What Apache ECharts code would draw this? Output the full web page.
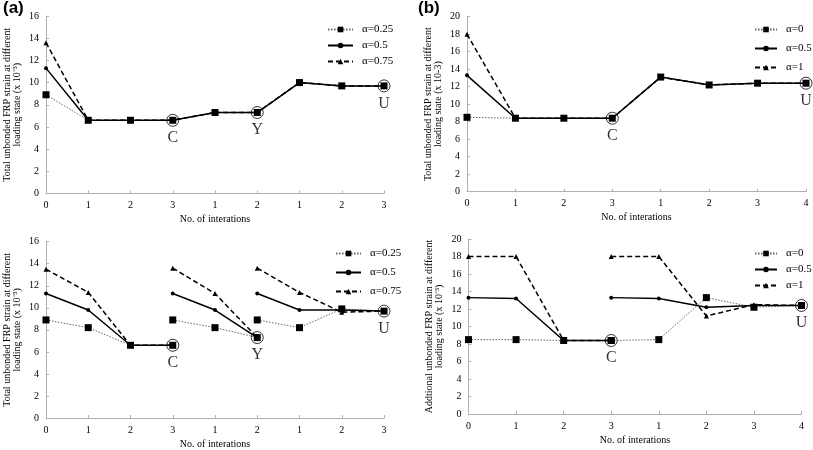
<!DOCTYPE html>
<html><head><meta charset="utf-8">
<script src="https://cdn.jsdelivr.net/npm/echarts@6/dist/echarts.min.js"></script>
<style>html,body{margin:0;padding:0;background:#fff}#c{width:813px;height:450px}</style>
</head><body><div id="c"></div>
<script>
// ---------- DATA ----------
const catsA = ['0','1','2','3','1','2','1','2','3'];
const catsB = ['0','1','2','3','1','2','3','4'];

// (a) top – total unbonded FRP strain (x10^-3)
const aTop025 = [8.9, 6.6, 6.6, 6.6, 7.3, 7.3, 10.0, 9.7, 9.7];
const aTop05  = [11.3, 6.6, 6.6, 6.6, 7.3, 7.3, 10.0, 9.7, 9.7];
const aTop075 = [13.6, 6.6, 6.6, 6.6, 7.3, 7.3, 10.0, 9.7, 9.7];
const aTopMarkIdx = [3, 5, 8];
const aTopMarkTxt = ['C', 'Y', 'U'];

// (a) bottom – segments start at category index
const aBotSegStart = [0, 3, 5];
const aBot025 = [[8.9, 8.2, 6.6, 6.6], [8.9, 8.2, 7.3], [8.9, 8.2, 9.9, 9.7]];
const aBot05  = [[11.3, 9.8, 6.6, 6.6], [11.3, 9.8, 7.3], [11.3, 9.8, 9.8, 9.7]];
const aBot075 = [[13.5, 11.4, 6.6, 6.6], [13.6, 11.3, 7.3], [13.6, 11.4, 9.6, 9.7]];
const aBotMarkIdx = [3, 5, 8];
const aBotMarkVal = [6.6, 7.3, 9.7];
const aBotMarkTxt = ['C', 'Y', 'U'];

// (b) top
const bTop0  = [8.5, 8.4, 8.4, 8.4, 13.1, 12.2, 12.4, 12.4];
const bTop05 = [13.3, 8.4, 8.4, 8.4, 13.1, 12.2, 12.4, 12.4];
const bTop1  = [18.0, 8.4, 8.4, 8.4, 13.1, 12.2, 12.4, 12.4];
const bTopMarkIdx = [3, 7];
const bTopMarkTxt = ['C', 'U'];

// (b) bottom
const bBotSegStart = [0, 3];
const bBot0  = [[8.5, 8.5, 8.4, 8.4], [8.4, 8.5, 13.3, 12.2, 12.4]];
const bBot05 = [[13.3, 13.2, 8.4, 8.4], [13.3, 13.2, 12.2, 12.4, 12.4]];
const bBot1  = [[18.0, 18.0, 8.4, 8.4], [18.0, 18.0, 11.2, 12.5, 12.4]];
const bBotMarkIdx = [3, 7];
const bBotMarkVal = [8.4, 12.4];
const bBotMarkTxt = ['C', 'U'];

const namesA = ['α=0.25', 'α=0.5', 'α=0.75'];
const namesB = ['α=0', 'α=0.5', 'α=1'];
const yNameTotal = 'Total unbonded FRP strain at different\nloading state (x 10\u207B\u00B3)';
const yNameTotalB = 'Total unbonded FRP strain at different\nloading state (x 10-3)';
const yNameAdd = 'Addtional unbonded FRP strain at different\nloading state (x 10\u207B\u00B3)';
const xName = 'No. of interations';

// ---------- HELPERS ----------
const SERIF = 'Liberation Serif';
const AX = '#b0b0b0';
function pairs(arr) { return arr.map((v, i) => [i, v]); }
function segPairs(starts, segs) {
  const out = [];
  segs.forEach((s, k) => {
    if (k > 0) out.push([starts[k], '-']);
    s.forEach((v, i) => out.push([starts[k] + i, v]));
  });
  return out;
}
const sty = {
  sq: { symbol: 'rect', symbolSize: 7, lineStyle: { color: '#666', width: 1, type: [1.5, 1.5] }, itemStyle: { color: '#000' } },
  tr: { symbol: 'triangle', symbolSize: 5, lineStyle: { color: '#000', width: 1.5, type: [5, 3] }, itemStyle: { color: '#000' } },
  ci: { symbol: 'circle', symbolSize: 4, lineStyle: { color: '#000', width: 1.5, type: 'solid' }, itemStyle: { color: '#000' } }
};
function line(name, kind, gi, data) {
  return Object.assign({ type: 'line', name, xAxisIndex: gi, yAxisIndex: gi, data,
    showAllSymbol: true, animation: false, z: 2 }, JSON.parse(JSON.stringify(sty[kind])));
}
function marks(gi, idx, vals, txt) {
  return { type: 'scatter', xAxisIndex: gi, yAxisIndex: gi, silent: true, animation: false, z: 10,
    symbol: 'circle', symbolSize: 12,
    itemStyle: { color: 'rgba(0,0,0,0)', borderColor: '#000', borderWidth: 1 },
    label: { show: true, position: 'bottom', distance: 3, formatter: '{b}', color: '#000', fontFamily: SERIF, fontSize: 16 },
    data: idx.map((i, k) => ({ value: [i, vals[k]], name: txt[k] })) };
}
function xAx(gi, cats) {
  return { type: 'category', gridIndex: gi, data: cats, boundaryGap: false,
    axisLine: { lineStyle: { color: AX, width: 1 } },
    axisTick: { inside: true, length: 3, interval: 0, lineStyle: { color: AX } },
    axisLabel: { interval: 0, color: '#000', fontFamily: SERIF, fontSize: 10, margin: 7 },
    splitLine: { show: false },
    name: xName, nameLocation: 'middle', nameGap: 21,
    nameTextStyle: { color: '#000', fontFamily: SERIF, fontSize: 10 } };
}
function yAx(gi, max, name) {
  return { type: 'value', gridIndex: gi, min: 0, max, interval: 2,
    axisLine: { show: true, lineStyle: { color: AX, width: 1 } },
    axisTick: { show: true, inside: true, length: 3, lineStyle: { color: AX } },
    axisLabel: { color: '#000', fontFamily: SERIF, fontSize: 10, margin: 7 },
    splitLine: { show: false },
    name, nameLocation: 'middle', nameRotate: 90, nameGap: 24,
    nameTextStyle: { color: '#000', fontFamily: SERIF, fontSize: 10, lineHeight: 10 } };
}
function leg(names, left, top, w, gap) {
  return { data: names, orient: 'vertical', left, top, itemWidth: w, itemHeight: 7, itemGap: gap,
    selectedMode: false, textStyle: { color: '#000', fontFamily: SERIF, fontSize: 11, padding: [0, 0, 0, 4] } };
}

const option = {
  animation: false,
  backgroundColor: '#fff',
  grid: [
    { left: 46, top: 16, width: 338, height: 177.5 },
    { left: 467, top: 16.7, width: 339, height: 175 },
    { left: 46, top: 241.7, width: 338, height: 178.3 },
    { left: 468.5, top: 239, width: 333, height: 175 }
  ],
  xAxis: [xAx(0, catsA), xAx(1, catsB), xAx(2, catsA), xAx(3, catsB)],
  yAxis: [yAx(0, 16, yNameTotal), yAx(1, 20, yNameTotalB), yAx(2, 16, yNameTotal), yAx(3, 20, yNameAdd)],
  legend: [
    leg(namesA, 322, 19, 25, 5),
    leg(namesB, 749, 19, 22, 8),
    leg(namesA, 330, 243, 25, 8),
    leg(namesB, 749, 243, 22, 5)
  ],
  graphic: [
    { type: 'text', left: 3, top: 0, style: { text: '(a)', font: 'bold 17px "Liberation Sans"', fill: '#000' } },
    { type: 'text', left: 418, top: 0, style: { text: '(b)', font: 'bold 17px "Liberation Sans"', fill: '#000' } }
  ],
  series: [
    line(namesA[0], 'sq', 0, pairs(aTop025)),
    line(namesA[2], 'tr', 0, pairs(aTop075)),
    line(namesA[1], 'ci', 0, pairs(aTop05)),
    marks(0, aTopMarkIdx, aTopMarkIdx.map(i => aTop05[i]), aTopMarkTxt),

    line(namesB[0], 'sq', 1, pairs(bTop0)),
    line(namesB[2], 'tr', 1, pairs(bTop1)),
    line(namesB[1], 'ci', 1, pairs(bTop05)),
    marks(1, bTopMarkIdx, bTopMarkIdx.map(i => bTop05[i]), bTopMarkTxt),

    line(namesA[0], 'sq', 2, segPairs(aBotSegStart, aBot025)),
    line(namesA[2], 'tr', 2, segPairs(aBotSegStart, aBot075)),
    line(namesA[1], 'ci', 2, segPairs(aBotSegStart, aBot05)),
    marks(2, aBotMarkIdx, aBotMarkVal, aBotMarkTxt),

    line(namesB[0], 'sq', 3, segPairs(bBotSegStart, bBot0)),
    line(namesB[2], 'tr', 3, segPairs(bBotSegStart, bBot1)),
    line(namesB[1], 'ci', 3, segPairs(bBotSegStart, bBot05)),
    marks(3, bBotMarkIdx, bBotMarkVal, bBotMarkTxt)
  ]
};
echarts.init(document.getElementById('c'), null, { renderer: 'canvas' }).setOption(option);
</script></body></html>
